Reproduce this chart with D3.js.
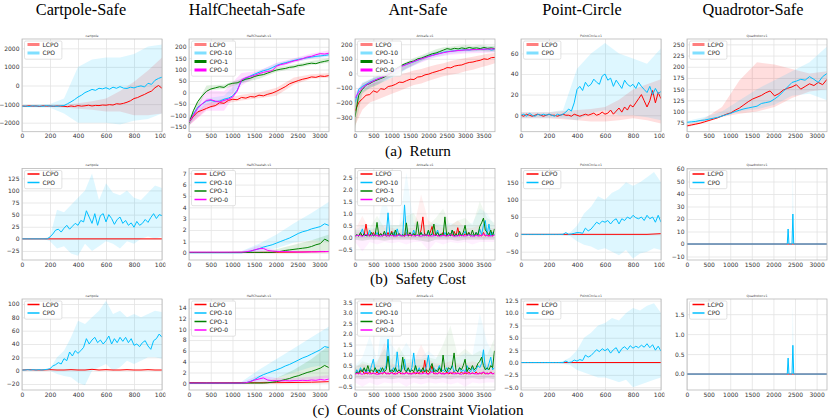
<!DOCTYPE html>
<html>
<head>
  <meta charset="utf-8">
  <script src="https://d3js.org/d3.v7.min.js"></script>
  <style>
    html, body { margin: 0px; padding: 0px; background: #fff; }
    .tick text { font-family: "DejaVu Sans", sans-serif; font-size: 6px; fill: #333; }
    .tick line { stroke: #e3e3e3; stroke-width: 0.8; }
    .leg { font-family: "DejaVu Sans", sans-serif; font-size: 6px; fill: #222; }
    .mini { font-family: "DejaVu Sans", sans-serif; font-size: 3.2px; fill: #444; }
  </style>
</head>
<body>
<script>
// ---------- tick labels ----------
const xTicks1000 = [0, 200, 400, 600, 800, 1000];
const xTicks3000 = [0, 500, 1000, 1500, 2000, 2500, 3000];
const xTicks3500 = [0, 500, 1000, 1500, 2000, 2500, 3000, 3500];

const cartRetTicks = [-2000, -1000, 0, 1000, 2000];
const hcRetTicks = [-150, -100, -50, 0, 50, 100, 150, 200];
const antRetTicks = [-300, -200, -100, 0, 100, 200];
const pcRetTicks = [0, 20, 40, 60];
const quadRetTicks = [75, 100, 125, 150, 175, 200, 225, 250];

const cartCostTicks = [-25, 0, 25, 50, 75, 100, 125];
const hcCostTicks = [0, 1, 2, 3, 4, 5, 6, 7];
const antCostTicks = [-0.5, 0, 0.5, 1, 1.5, 2, 2.5];
const pcCostTicks = [-50, 0, 50, 100, 150];
const quadCostTicks = [-10, 0, 10, 20, 30, 40, 50, 60];

const cartVioTicks = [-20, 0, 20, 40, 60, 80, 100];
const hcVioTicks = [0, 2, 4, 6, 8, 10, 12, 14];
const antVioTicks = [-0.5, 0, 0.5, 1, 1.5, 2, 2.5, 3, 3.5];
const pcVioTicks = [-5, -2.5, 0, 2.5, 5, 7.5, 10, 12.5];
const quadVioTicks = [0, 0.5, 1, 1.5];

const envTitles = ["Cartpole-Safe", "HalfCheetah-Safe", "Ant-Safe", "Point-Circle", "Quadrotor-Safe"];
const miniTitles = ["cartpole", "HalfCheetah-v1", "Antsafe-v1", "PointCircle-v1", "Quadrotor-v1"];
const captions = ["(a)  Return", "(b)  Safety Cost", "(c)  Counts of Constraint Violation"];

// ---------- (a) return ----------
const cartRetCPO = [-1120,-1100,-1130,-1090,-1110,-1100,-1120,-1080,-1110,-1100,-1120,-1090,-1080,-980,-880,-760,-620,-520,-380,-300,-210,-260,-150,-180,-120,-200,-90,-150,-60,-140,-160,-90,-130,-60,-20,-80,120,60,280,380,450];
const cartRetLCPO = [-1100,-1120,-1090,-1110,-1100,-1130,-1090,-1110,-1100,-1120,-1100,-1110,-1120,-1140,-1100,-1130,-1080,-1110,-1090,-1060,-1100,-1070,-1080,-1050,-1060,-1030,-1050,-980,-1000,-960,-900,-820,-700,-650,-560,-480,-380,-300,-120,0,-150];
const cartRetCPOHi = [-1050,-1030,-1000,-700,1000,1400,1500,1500,1700,2100,2200];
const cartRetCPOLo = [-1170,-1180,-1200,-1500,-2000,-2000,-2000,-2100,-1900,-1800,-1500];
const cartRetLCPOHi = [-1050,-1050,-1050,-1030,-950,-850,-700,-300,200,800,1500];
const cartRetLCPOLo = [-1150,-1160,-1160,-1180,-1250,-1300,-1400,-1400,-1600,-1600,-1500];

const hcRetLCPO = [-130,-105,-85,-78,-70,-62,-58,-45,-48,-35,-30,-32,-22,-25,-18,-20,-12,-15,-8,-3,5,15,25,38,45,52,58,62,68,66,72,70,74];
const hcRetC10 = [-130,-95,-65,-50,-38,-35,-40,-38,-30,-25,-15,10,50,62,72,80,88,95,100,108,118,125,130,135,140,145,148,152,155,158,160,162,165];
const hcRetC1 = [-135,-80,-40,-15,5,15,20,25,22,35,40,42,50,58,62,70,75,78,85,92,98,102,105,110,112,118,120,125,128,126,132,136,140];
const hcRetC0 = [-130,-100,-70,-50,-35,-32,-38,-42,-35,-30,-20,5,55,65,70,75,82,88,92,95,115,122,126,132,138,142,148,155,158,165,170,168,172];
const hcRetLCPOHi = [-115,-50,-25,-10,0,20,65,80,85];
const hcRetLCPOLo = [-145,-75,-50,-35,-25,-15,35,60,65];
const hcRetC10Hi = [-115,-25,-15,62,95,128,148,165,175];
const hcRetC10Lo = [-145,-50,-45,40,80,110,132,148,155];
const hcRetC1Hi = [-115,30,35,60,80,108,122,138,150];
const hcRetC1Lo = [-150,10,15,40,60,90,105,120,130];
const hcRetC0Hi = [-115,10,5,85,95,130,150,170,185];
const hcRetC0Lo = [-145,-80,-80,30,75,105,130,150,160];

const antRetLCPO = [-260,-200,-175,-150,-145,-120,-130,-105,-110,-90,-85,-75,-60,-62,-50,-40,-42,-25,-22,-10,-5,5,12,20,28,40,38,50,55,58,68,75,78,85,90,100,96,108,110];
const antRetC10 = [-200,-110,-90,-75,-60,-50,-40,-30,-20,-5,10,25,40,55,62,72,80,90,100,110,118,125,132,138,145,150,152,155,158,160,162,160,165,163,166,165,168,160,165];
const antRetC1 = [-300,-150,-110,-80,-70,-55,-45,-35,-25,-10,5,30,45,60,70,80,85,100,105,115,125,135,140,150,160,170,165,172,168,175,170,178,172,175,170,178,172,175,170];
const antRetC0 = [-170,-130,-100,-80,-65,-52,-40,-30,-18,-5,8,25,40,52,62,72,82,92,100,108,116,123,130,136,142,147,151,154,157,159,161,162,163,164,165,166,167,168,168];
const antRetLCPOHi = [-180,-120,-80,-60,-50,-30,-10,5,20,30,45,60,70,85,95,105,115,125,135,140];
const antRetLCPOLo = [-360,-250,-200,-180,-160,-140,-120,-100,-80,-70,-50,-35,-20,-10,0,15,25,40,55,70];
const antRetC10Hi = [-150,-60,-40,-15,5,25,40,70,95,115,135,150,160,170,175,178,180,182,183,185];
const antRetC10Lo = [-260,-130,-100,-80,-55,-30,-5,30,55,80,100,115,125,135,140,145,148,150,150,150];
const antRetC1Hi = [-200,-70,-45,-20,5,35,55,80,105,125,145,165,180,185,190,195,190,195,190,190];
const antRetC1Lo = [-380,-140,-100,-80,-50,-25,5,35,60,85,110,130,145,150,150,155,152,155,150,150];
const antRetC0Hi = [-130,-70,-45,-25,0,20,45,70,90,110,125,138,148,155,158,162,165,168,170,172];
const antRetC0Lo = [-210,-110,-90,-70,-45,-20,10,30,55,75,95,110,120,128,132,136,138,140,142,144];

const pcRetCPO = [0,1,-1,2,0,-1,1,0,1,0,1,0,-1,1,0,1,3,6,4,12,25,28,24,32,28,30,35,32,30,38,40,34,36,28,34,30,26,34,30,28,30,26,32,28,25,22,28,20,26,21,23];
const pcRetLCPO = [0,-1,1,0,-1,0,1,0,-1,0,1,0,0,-1,0,1,0,0,-1,1,0,-1,0,1,0,1,2,0,1,3,1,2,5,1,4,7,3,8,5,10,8,12,16,20,14,8,14,24,12,22,16];
const pcRetCPOHi = [3,3,3,5,45,60,70,60,55,50,65];
const pcRetCPOLo = [-3,-3,-3,-3,-5,2,5,0,0,-2,-5];
const pcRetLCPOHi = [3,3,3,4,5,6,8,15,25,30,35];
const pcRetLCPOLo = [-3,-3,-3,-4,-5,-6,-6,-5,-3,-5,-8];

const quadRetLCPO = [68,70,72,74,77,80,83,86,90,94,97,103,108,115,122,128,132,136,142,146,135,140,148,152,155,160,150,156,162,158,165,160,172];
const quadRetCPO = [76,77,78,80,81,83,85,87,90,93,96,100,103,106,108,110,112,118,120,122,128,135,145,155,165,168,172,170,178,172,165,178,185];
const quadRetLCPOHi = [71,85,110,170,210,205,195,185,190];
const quadRetLCPOLo = [65,75,88,95,100,110,130,145,150];
const quadRetCPOHi = [79,88,100,125,150,170,190,210,245];
const quadRetCPOLo = [73,79,90,100,105,115,135,140,125];

// ---------- (b) safety cost ----------
const cartCostCPO = [0,0,0,0,0,0,0,0,0,0,4,10,18,20,14,22,28,20,26,32,28,38,35,58,45,32,52,28,48,52,35,50,42,30,40,45,32,38,28,33,24,36,28,32,40,34,44,52,42,50,48];
const cartCostLCPO = [0, 0];
const cartCostCPOHi = [0,0,0,0,5,60,55,70,85,100,135,80,115,95,90,100,85,80,95,110,105];
const cartCostCPOLo = [0,0,0,0,-5,-20,-15,-30,-35,-10,-25,-15,-5,-10,-20,-5,-10,0,5,0,5];

const hcCostLCPO = [0.02,0.02,0.02,0.03,0.03,0.04,0.05,0.08,0.1];
const hcCostC10 = [0,0,0,0,0,0,0,0,0,0,0,0,0,0.05,0.12,0.25,0.35,0.5,0.6,0.7,0.85,1.0,1.15,1.3,1.5,1.7,1.85,1.95,2.1,2.2,2.3,2.55,2.4];
const hcCostC1 = [0.03,0.03,0.03,0.03,0.03,0.03,0.03,0.03,0.03,0.03,0.03,0.03,0.03,0.03,0.03,0.03,0.03,0.03,0.03,0.03,0.08,0.12,0.2,0.25,0.3,0.35,0.4,0.45,0.55,0.7,0.8,1.2,1.0];
const hcCostC0 = [0.05,0.05,0.05,0.05,0.05,0.05,0.05,0.05,0.05,0.05,0.05,0.05,0.05,0.08,0.15,0.25,0.35,0.38,0.2,0.15,0.12,0.1,0.1,0.08,0.08,0.06,0.06,0.07,0.08,0.08,0.1,0.1,0.12];
const hcCostC10Hi = [0,0,0,0.15,0.8,1.6,2.6,3.5,4.5];
const hcCostC10Lo = [0,0,0,0,0.1,0.4,0.9,1.1,1.0];
const hcCostC1Hi = [0.05,0.05,0.05,0.05,0.1,0.3,0.7,1.1,1.6];
const hcCostC1Lo = [0,0,0,0,0,0,0.05,0.1,0.2];
const hcCostC0Hi = [0.08,0.08,0.08,0.1,0.65,0.2,0.15,0.15,0.2];
const hcCostC0Lo = [0,0,0,0,0,0,0,0,0];

const antCostLCPO = [0.05,0.1,0.05,0.15,0.05,0.1,0.55,0.05,0.1,0.05, 0.2,0.05,0.1,0.05,0.15,0.05,0.1,0.05,0.2,0.05, 0.25,0.05,0.1,0.05,0.15,0.05,0.1,0.05,0.2,0.05, 0.1,0.05,0.15,0.05,0.1,0.05,0.3,0.85,0.05,0.1, 0.05,0.2,0.45,0.05,0.15,0.05,0.1,0.05,0.2,0.05, 0.1,0.05,0.15,0.05,0.25,0.05,0.4,0.05,0.1,0.05, 0.15,0.05,0.2,0.05,0.1,0.05,0.15,0.05,0.1,0.05, 0.2,0.05,0.1,0.05,0.15,0.05,0.1];
const antCostC10 = [0.05,0.1,0.05,0.15,0.35,0.05,0.1,0.05,0.3,0.05, 0.1,0.05,0.2,0.05,0.1,0.05,0.15,0.05,1.02,0.1, 0.05,0.2,0.05,0.35,0.05,0.1,0.05,1.35,0.1,0.05, 0.15,0.05,0.3,0.05,0.1,0.05,0.2,0.05,0.1,0.05, 0.25,0.05,0.15,0.05,0.1,0.3,0.05,0.1,0.05,0.2, 0.05,0.1,0.05,0.3,0.05,0.1,0.05,0.2,0.05,0.1, 0.25,0.05,0.15,0.05,0.1,0.05,0.2,0.05,0.35,0.1, 0.5,0.7,0.1,0.55,0.05,0.2,0.1];
const antCostC1 = [0.05,0.1,0.05,0.2,0.05,0.15,0.05,0.1,0.05,0.2, 0.05,0.1,0.62,0.05,0.15,0.05,0.25,0.05,0.1,0.05, 0.2,0.05,0.3,0.05,0.15,0.05,0.1,0.05,0.6,0.05, 0.2,0.05,0.15,0.05,0.65,0.05,0.2,0.05,0.15,0.05, 0.3,0.05,0.15,0.55,0.05,0.2,0.05,0.15,0.05,0.85, 0.05,0.2,0.05,0.3,0.05,0.15,0.05,0.25,0.05,0.2, 0.5,0.05,0.2,0.05,0.3,0.05,0.2,0.1,0.45,0.6, 0.8,0.3,0.2,0.1,0.3,0.05,0.35];
const antCostC0 = [0.05,0.08,0.04,0.12,0.05,0.1,0.06,0.04,0.1,0.05,0.08,0.04,0.1,0.05,0.07,0.12,0.05,0.08,0.04,0.1,0.06,0.05,0.09,0.04,0.08,0.05,0.1,0.04,0.06,0.08,0.05,0.1,0.04,0.07,0.05,0.12,0.06,0.05,0.08];
const antCostLCPOHi = [0.3,0.9,0.3,0.4,0.5,0.4,0.3,0.4,0.4,1.8,0.7,0.5,0.4,0.5,0.7,0.4,0.4,0.5,0.4,0.4];
const antCostC10Hi = [0.3,0.5,0.4,0.4,1.8,0.5,0.5,2.7,0.6,0.5,0.5,0.6,0.5,0.6,0.5,0.5,0.6,1.2,1.0,0.5];
const antCostC1Hi = [0.3,0.3,0.4,0.9,0.4,0.5,0.5,0.9,1.0,0.5,0.5,0.8,1.2,0.5,0.7,0.8,0.5,1.5,0.8,0.6];
const antCostC0Hi = [0.2,0.25,0.2,0.25,0.2,0.25,0.2,0.2,0.25,0.2,0.2,0.25,0.2,0.2,0.25,0.2,0.2,0.25,0.2,0.2];
const antCostLo = [-0.1,-0.15,-0.1,-0.1,-0.15,-0.1,-0.1,-0.1,-0.1,-0.15,-0.2,-0.1,-0.1,-0.1,-0.15,-0.1,-0.1,-0.1,-0.1,-0.1];
const antCostC0Lo = [-0.2,-0.6,-0.2,-0.3,-0.2,-0.25,-0.2,-0.3,-0.2,-0.2,-0.55,-0.2,-0.3,-0.2,-0.25,-0.2,-0.3,-0.2,-0.2,-0.2];

const pcCostCPO = [0,0,0,0,0,0,0,0,0,0,0,0,0,0,0,0,5,0,1,3,5,5,3,18,10,15,25,35,30,38,35,40,30,40,45,30,45,40,50,45,55,48,45,50,40,55,45,50,35,55,35];
const pcCostLCPO = [0,0,0,0,0,0,0,0,0,0,2];
const pcCostCPOHi = [0,0,0,0,0,0,3,5,25,60,80,110,100,120,130,150,140,150,165,180,150];
const pcCostCPOLo = [0,0,0,0,0,0,-3,-5,-20,-30,-35,-45,-40,-50,-60,-45,-70,-55,-50,-40,-45];

const quadSpikeX = [0, 2320, 2340, 2360, 2430, 2450, 2470, 3240];
const quadCostCPO = [0, 0, 12, 0, 0, 24, 0, 0];
const quadCostCPOHi = [0, 0, 15, 0, 0, 58, 0, 0];
const quadCostLCPO = [0, 0];
const quadZero = [0, 0, 0, 0, 0, 0, 0, 0];

// ---------- (c) counts of constraint violation ----------
const cartVioCPO = [1,1,1.5,1,1.5,1,1.5,1,1.5,2,3,7,9,12,10,18,15,28,22,30,26,30,35,48,40,46,50,42,46,40,45,52,40,48,42,50,44,50,42,48,38,40,36,42,45,37,32,45,48,55,50];
const cartVioLCPO = [1,1.5,1,1,1.5,1,1,1.5,1,1,2,1,1.5,1,1,1.5,1,1,1.5,1,1];
const cartVioCPOHi = [1.5,2,2,2.5,3,20,30,50,75,70,80,90,105,85,90,80,85,80,85,90,88];
const cartVioCPOLo = [0.5,0.5,0.5,0.5,0,-5,-8,-10,-18,-22,0,5,10,0,5,15,10,15,20,20,18];

const hcVioLCPO = [0.15,0.1,0.1,0.1,0.1,0.12,0.15,0.2,0.3];
const hcVioC10 = [0,0,0,0,0,0,0,0,0,0,0,0,0,0.1,0.35,0.7,1.2,1.6,1.9,2.2,2.5,2.8,3.2,3.5,3.9,4.3,4.7,5.0,5.4,5.8,6.2,6.8,6.6];
const hcVioC1 = [0.05,0.05,0.05,0.05,0.05,0.05,0.05,0.05,0.05,0.05,0.05,0.05,0.05,0.05,0.05,0.05,0.05,0.05,0.1,0.2,0.3,0.5,0.7,0.9,1.2,1.4,1.7,2.0,2.2,2.5,2.8,3.3,2.9];
const hcVioC0 = [0.05,0.05,0.05,0.05,0.05,0.05,0.05,0.05,0.05,0.05,0.05,0.05,0.05,0.1,0.3,0.6,0.8,1.0,0.6,0.5,0.5,0.45,0.5,0.45,0.5,0.5,0.55,0.5,0.6,0.55,0.7,0.6,0.8];
const hcVioC10Hi = [0,0,0,0.3,2.5,4.5,6.5,8.5,10.5];
const hcVioC10Lo = [0,0,0,0,0.3,1,2,3,3.5];
const hcVioC1Hi = [0.1,0.1,0.1,0.1,0.2,1.0,2.5,4.5,7.0];
const hcVioC1Lo = [0,0,0,0,0,0.1,0.3,0.6,1.0];
const hcVioC0Hi = [0.1,0.1,0.1,0.2,1.5,1.0,1.0,1.2,1.5];
const hcVioC0Lo = [0,0,0,0,0.2,0.2,0.2,0.2,0.3];

const antVioLCPO = [0.1,0.15,0.1,0.2,0.3,0.1,0.15,0.1,0.2,0.1, 0.15,0.1,0.2,0.1,0.15,0.1,0.2,0.1,0.15,0.1, 0.2,0.1,0.15,0.1,0.2,0.1,0.15,0.1,0.2,0.1, 0.15,0.1,0.2,0.1,0.15,0.1,0.3,0.1,0.75,0.15, 0.1,0.2,0.5,0.1,0.15,0.1,0.2,0.1,0.15,0.1, 0.2,0.1,0.15,0.1,0.25,0.1,0.15,0.1,0.2,0.1, 0.15,0.1,0.2,0.1,0.15,0.1,0.2,0.1,0.15,0.1, 0.2,0.1,0.15,0.1,0.2,0.1,0.15];
const antVioC10 = [0.1,0.3,0.15,0.4,0.2,0.35,0.15,0.3,0.2,0.5, 0.8,0.2,0.3,0.15,0.4,0.2,0.3,0.5,1.75,0.3, 0.2,0.4,0.2,1.15,0.3,0.2,0.4,0.8,0.2,0.3, 0.2,0.4,1.1,0.3,0.2,0.4,0.2,0.3,0.2,0.5, 1.0,0.3,0.2,0.4,0.2,0.3,0.5,0.2,0.3,0.2, 0.4,0.2,0.3,0.5,0.2,0.3,0.2,0.4,0.2,0.3, 0.2,0.5,0.3,0.2,0.4,0.2,0.3,0.5,0.4,0.6, 1.25,0.4,0.3,0.6,0.9,0.3,0.4];
const antVioC1 = [0.1,0.2,0.15,0.3,0.2,0.4,0.2,0.5,0.2,0.3, 0.2,0.4,0.2,0.3,0.2,0.4,0.2,0.3,0.95,0.2, 0.3,0.2,0.4,0.2,0.3,0.2,0.9,0.3,0.2,0.4, 0.2,0.3,0.2,0.5,0.2,0.3,0.2,0.4,0.2,0.3, 0.2,0.4,0.6,0.2,0.3,0.2,0.4,0.2,1.0,0.3, 0.2,0.4,0.3,0.5,1.1,0.3,0.2,0.4,0.3,0.5, 0.8,0.2,0.4,0.3,0.5,0.3,0.4,0.6,0.7,0.9, 0.5,0.3,0.4,0.3,0.5,0.4,1.2];
const antVioC0 = [0.1,0.15,0.08,0.2,0.1,0.15,0.08,0.12,0.18,0.1,0.15,0.08,0.2,0.1,0.15,0.1,0.12,0.18,0.1,0.15,0.08,0.2,0.1,0.15,0.1,0.12,0.18,0.1,0.15,0.08,0.2,0.1,0.15,0.1,0.12,0.18,0.1,0.15,0.1];
const antVioLCPOHi = [0.4,0.6,0.5,0.6,1.6,0.6,0.5,0.6,0.7,1.5,0.8,0.6,0.6,0.7,0.6,0.6,0.7,0.6,0.6,0.6];
const antVioC10Hi = [0.5,0.9,1.9,0.8,3.3,1.5,1.0,1.6,1.0,0.9,1.2,0.9,1.0,1.0,0.9,1.1,1.0,3.0,1.6,1.0];
const antVioC1Hi = [0.4,0.7,0.6,0.7,1.3,0.8,1.4,0.8,0.8,0.8,0.9,0.8,1.5,2.4,1.0,1.3,1.0,1.2,1.0,1.8];
const antVioC0Hi = [0.3,0.35,0.3,0.35,0.3,0.35,0.3,0.35,0.3,0.35,0.3,0.35,0.3,0.35,0.3,0.35,0.3,0.35,0.3,0.35];
const antVioLo = [-0.1,-0.15,-0.1,-0.15,-0.1,-0.15,-0.1,-0.15,-0.1,-0.15,-0.1,-0.15,-0.1,-0.15,-0.1,-0.15,-0.1,-0.15,-0.1,-0.15];
const antVioC0Lo = [-0.3,-0.5,-0.3,-0.45,-0.3,-0.35,-0.3,-0.5,-0.3,-0.4,-0.3,-0.35,-0.3,-0.4,-0.3,-0.5,-0.3,-0.35,-0.3,-0.3];

const pcVioCPO = [0,0,0,0,0,0,0,0,0,0,0,0,0,0,0,0,0.3,0,0.1,0.5,0.3,0.6,0.4,1.5,1.1,1.4,2.0,2.6,2.2,2.8,2.4,2.8,1.9,2.6,3.0,1.9,2.8,3.2,2.6,3.4,2.9,3.3,3.0,3.5,3.1,3.8,3.0,3.6,2.5,3.3,2.3];
const pcVioLCPO = [0, 0];
const pcVioCPOHi = [0,0,0,0,0,0,0.3,1.0,2.5,5.0,6.0,7.5,8.0,9.0,8.5,10.0,11.0,10.5,11.5,12.0,10.0];
const pcVioCPOLo = [0,0,0,0,0,0,-0.3,-0.5,-1.5,-2.0,-2.5,-3.0,-3.0,-3.5,-4.0,-3.5,-5.0,-4.5,-4.0,-3.5,-3.0];

const quadVioCPO = [0, 0, 0.4, 0, 0, 0.72, 0, 0];
const quadVioCPOHi = [0, 0, 0.5, 0, 0, 1.75, 0, 0];
const quadVioLCPO = [0, 0];

// ---------- layout ----------
const width = 831, height = 420;
const colLeft = [22, 189, 355, 521, 687];
const plotW = 140;
const rowBox = [{top: 39, bottom: 131.7}, {top: 168.5, bottom: 260}, {top: 299, bottom: 390}];
const titleX = [81, 247, 418, 582, 753];
const colors = {"LCPO": "#ff0000", "CPO": "#00bfff", "CPO-10": "#00bfff", "CPO-1": "#008000", "CPO-0": "#ff00ff"};
const serif = '"Liberation Serif", "Times New Roman", "DejaVu Serif", serif';

// series helper: y values spread evenly over [0, xEnd]; band lo/hi likewise
function S(name, y, xEnd, lo, hi, x) { return {name, y, xEnd, lo, hi, x}; }

const panels = [
  // row 0: return
  {row: 0, col: 0, xMax: 1000, xTicks: xTicks1000, yDom: [-2484, 2500], yTicks: cartRetTicks, fmt: "d",
   series: [S("LCPO", cartRetLCPO, 1000, cartRetLCPOLo, cartRetLCPOHi), S("CPO", cartRetCPO, 1000, cartRetCPOLo, cartRetCPOHi)]},
  {row: 0, col: 1, xMax: 3220, xTicks: xTicks3000, yDom: [-172, 234], yTicks: hcRetTicks, fmt: "d",
   series: [S("LCPO", hcRetLCPO, 3220, hcRetLCPOLo, hcRetLCPOHi), S("CPO-10", hcRetC10, 3220, hcRetC10Lo, hcRetC10Hi),
            S("CPO-1", hcRetC1, 3220, hcRetC1Lo, hcRetC1Hi), S("CPO-0", hcRetC0, 3220, hcRetC0Lo, hcRetC0Hi)]},
  {row: 0, col: 2, xMax: 3815, xTicks: xTicks3500, yDom: [-400, 236], yTicks: antRetTicks, fmt: "d",
   series: [S("LCPO", antRetLCPO, 3815, antRetLCPOLo, antRetLCPOHi), S("CPO-10", antRetC10, 3815, antRetC10Lo, antRetC10Hi),
            S("CPO-1", antRetC1, 3815, antRetC1Lo, antRetC1Hi), S("CPO-0", antRetC0, 3815, antRetC0Lo, antRetC0Hi)]},
  {row: 0, col: 3, xMax: 1000, xTicks: xTicks1000, yDom: [-16, 74], yTicks: pcRetTicks, fmt: "d",
   series: [S("LCPO", pcRetLCPO, 1000, pcRetLCPOLo, pcRetLCPOHi), S("CPO", pcRetCPO, 1000, pcRetCPOLo, pcRetCPOHi)]},
  {row: 0, col: 4, xMax: 3240, xTicks: xTicks3000, yDom: [55, 262], yTicks: quadRetTicks, fmt: "d",
   series: [S("LCPO", quadRetLCPO, 3240, quadRetLCPOLo, quadRetLCPOHi), S("CPO", quadRetCPO, 3240, quadRetCPOLo, quadRetCPOHi)]},
  // row 1: safety cost
  {row: 1, col: 0, xMax: 1000, xTicks: xTicks1000, yDom: [-43.6, 145.2], yTicks: cartCostTicks, fmt: "d",
   series: [S("LCPO", cartCostLCPO, 1000), S("CPO", cartCostCPO, 1000, cartCostCPOLo, cartCostCPOHi)]},
  {row: 1, col: 1, xMax: 3220, xTicks: xTicks3000, yDom: [-0.64, 7.42], yTicks: hcCostTicks, fmt: "d",
   series: [S("LCPO", hcCostLCPO, 3220), S("CPO-10", hcCostC10, 3220, hcCostC10Lo, hcCostC10Hi),
            S("CPO-1", hcCostC1, 3220, hcCostC1Lo, hcCostC1Hi), S("CPO-0", hcCostC0, 3220, hcCostC0Lo, hcCostC0Hi)]},
  {row: 1, col: 2, xMax: 3815, xTicks: xTicks3500, yDom: [-0.95, 2.87], yTicks: antCostTicks, fmt: ".1f", bandAlpha: 0.06,
   series: [S("LCPO", antCostLCPO, 3800, antCostLo, antCostLCPOHi), S("CPO-10", antCostC10, 3800, antCostLo, antCostC10Hi),
            S("CPO-1", antCostC1, 3800, antCostLo, antCostC1Hi), S("CPO-0", antCostC0, 3800, antCostC0Lo, antCostC0Hi)]},
  {row: 1, col: 3, xMax: 1000, xTicks: xTicks1000, yDom: [-74, 190], yTicks: pcCostTicks, fmt: "d",
   series: [S("LCPO", pcCostLCPO, 1000), S("CPO", pcCostCPO, 1000, pcCostCPOLo, pcCostCPOHi)]},
  {row: 1, col: 4, xMax: 3240, xTicks: xTicks3000, yDom: [-12.8, 60.4], yTicks: quadCostTicks, fmt: "d",
   series: [S("LCPO", quadCostLCPO, 3240), S("CPO", quadCostCPO, 3240, quadZero, quadCostCPOHi, quadSpikeX)]},
  // row 2: violations
  {row: 2, col: 0, xMax: 1000, xTicks: xTicks1000, yDom: [-29, 107.5], yTicks: cartVioTicks, fmt: "d",
   series: [S("LCPO", cartVioLCPO, 1000), S("CPO", cartVioCPO, 1000, cartVioCPOLo, cartVioCPOHi)]},
  {row: 2, col: 1, xMax: 3220, xTicks: xTicks3000, yDom: [-1.24, 15.6], yTicks: hcVioTicks, fmt: "d",
   series: [S("LCPO", hcVioLCPO, 3220), S("CPO-10", hcVioC10, 3220, hcVioC10Lo, hcVioC10Hi),
            S("CPO-1", hcVioC1, 3220, hcVioC1Lo, hcVioC1Hi), S("CPO-0", hcVioC0, 3220, hcVioC0Lo, hcVioC0Hi)]},
  {row: 2, col: 2, xMax: 3815, xTicks: xTicks3500, yDom: [-0.66, 3.66], yTicks: antVioTicks, fmt: ".1f", bandAlpha: 0.06,
   series: [S("LCPO", antVioLCPO, 3800, antVioLo, antVioLCPOHi), S("CPO-10", antVioC10, 3800, antVioLo, antVioC10Hi),
            S("CPO-1", antVioC1, 3800, antVioLo, antVioC1Hi), S("CPO-0", antVioC0, 3800, antVioC0Lo, antVioC0Hi)]},
  {row: 2, col: 3, xMax: 1000, xTicks: xTicks1000, yDom: [-5.55, 12.84], yTicks: pcVioTicks, fmt: ".1f",
   series: [S("LCPO", pcVioLCPO, 1000), S("CPO", pcVioCPO, 1000, pcVioCPOLo, pcVioCPOHi)]},
  {row: 2, col: 4, xMax: 3240, xTicks: xTicks3000, yDom: [-0.40, 1.88], yTicks: quadVioTicks, fmt: ".1f",
   series: [S("LCPO", quadVioLCPO, 3240), S("CPO", quadVioCPO, 3240, quadZero, quadVioCPOHi, quadSpikeX)]}
];

const svg = d3.select("body").append("svg")
  .attr("width", width)
  .attr("height", height);
const defs = svg.append("defs");

function xsOf(arr, xEnd, xArr) {
  return arr.map((v, i) => xArr ? xArr[i] : i * xEnd / (arr.length - 1));
}

panels.forEach((p, pi) => {
  const left = colLeft[p.col], right = left + plotW;
  const top = rowBox[p.row].top, bottom = rowBox[p.row].bottom;
  const x = d3.scaleLinear().domain([0, p.xMax]).range([left, right]);
  const y = d3.scaleLinear().domain(p.yDom).range([bottom, top]);

  // each subplot was its own image: clip labels at the image edge
  defs.append("clipPath").attr("id", "img" + pi)
    .append("rect").attr("x", left - 30).attr("y", top - 8).attr("width", plotW + 33.5).attr("height", bottom - top + 20);
  defs.append("clipPath").attr("id", "plot" + pi)
    .append("rect").attr("x", left).attr("y", top).attr("width", plotW).attr("height", bottom - top);

  const g = svg.append("g").attr("clip-path", `url(#img${pi})`);

  g.append("rect").attr("x", left).attr("y", top).attr("width", plotW).attr("height", bottom - top).attr("fill", "#fff");

  // grid + tick labels
  const xa = g.append("g")
    .attr("transform", `translate(0,${bottom})`)
    .call(d3.axisBottom(x).tickValues(p.xTicks).tickSize(-(bottom - top)).tickPadding(2.5).tickFormat(d3.format("d")));
  const ya = g.append("g")
    .attr("transform", `translate(${left},0)`)
    .call(d3.axisLeft(y).tickValues(p.yTicks).tickSize(-plotW).tickPadding(2.5).tickFormat(d3.format(p.fmt)));
  xa.select(".domain").remove();
  ya.select(".domain").remove();

  const plot = g.append("g").attr("clip-path", `url(#plot${pi})`);

  // shaded bands first
  p.series.forEach(s => {
    if (!s.lo) return;
    const bx = xsOf(s.lo, s.xEnd, s.x && s.lo.length === s.x.length ? s.x : null);
    const pts = s.lo.map((v, i) => [bx[i], v, s.hi[i]]);
    plot.append("path")
      .datum(pts)
      .attr("fill", colors[s.name])
      .attr("fill-opacity", p.bandAlpha || 0.13)
      .attr("stroke", "none")
      .attr("d", d3.area().x(d => x(d[0])).y0(d => y(d[1])).y1(d => y(d[2])));
  });

  // mean lines
  p.series.forEach(s => {
    const lx = xsOf(s.y, s.xEnd, s.x && s.y.length === s.x.length ? s.x : null);
    plot.append("path")
      .datum(s.y.map((v, i) => [lx[i], v]))
      .attr("fill", "none")
      .attr("stroke", colors[s.name])
      .attr("stroke-width", 1)
      .attr("stroke-linejoin", "round")
      .attr("d", d3.line().x(d => x(d[0])).y(d => y(d[1])));
  });

  // frame
  g.append("rect").attr("x", left).attr("y", top).attr("width", plotW).attr("height", bottom - top)
    .attr("fill", "none").attr("stroke", "#b8b8b8").attr("stroke-width", 0.8);

  // tiny figure title
  svg.append("text").attr("class", "mini")
    .attr("x", (left + right) / 2).attr("y", top - 2.2)
    .attr("text-anchor", "middle")
    .text(miniTitles[p.col]);

  // legend
  const lg = g.append("g");
  const box = lg.append("rect")
    .attr("x", left + 2.5).attr("y", top + 2)
    .attr("rx", 1.5)
    .attr("fill", "#fff").attr("fill-opacity", 0.85)
    .attr("stroke", "#d0d0d0").attr("stroke-width", 0.6);
  let maxW = 0;
  p.series.forEach((s, i) => {
    const cy = top + 5.6 + i * 8.5;
    lg.append("line")
      .attr("x1", left + 5.5).attr("x2", left + 17.5)
      .attr("y1", cy).attr("y2", cy)
      .attr("stroke", colors[s.name])
      .attr("stroke-width", p.row === 0 ? 3 : 1.5)
      .attr("stroke-opacity", p.row === 0 && (s.name === "LCPO" || colors[s.name] === "#00bfff") ? 0.5 : 1);
    const t = lg.append("text").attr("class", "leg")
      .attr("x", left + 20.5).attr("y", cy + 2.1)
      .text(s.name);
    maxW = Math.max(maxW, t.node().getComputedTextLength());
  });
  box.attr("width", 18 + maxW + 3.5).attr("height", p.series.length * 8.5 + 1.2);
});

// column titles
envTitles.forEach((t, i) => {
  svg.append("text")
    .attr("x", titleX[i]).attr("y", 15)
    .attr("text-anchor", "middle")
    .attr("font-family", serif)
    .attr("font-size", 16.3)
    .attr("fill", "#000")
    .text(t);
});

// row captions
const capY = [156, 284, 415];
captions.forEach((t, i) => {
  svg.append("text")
    .attr("x", 418).attr("y", capY[i])
    .attr("text-anchor", "middle")
    .attr("font-family", serif)
    .attr("font-size", 15.2)
    .attr("fill", "#000")
    .attr("xml:space", "preserve")
    .style("white-space", "pre")
    .text(t);
});
</script>
</body>
</html>
